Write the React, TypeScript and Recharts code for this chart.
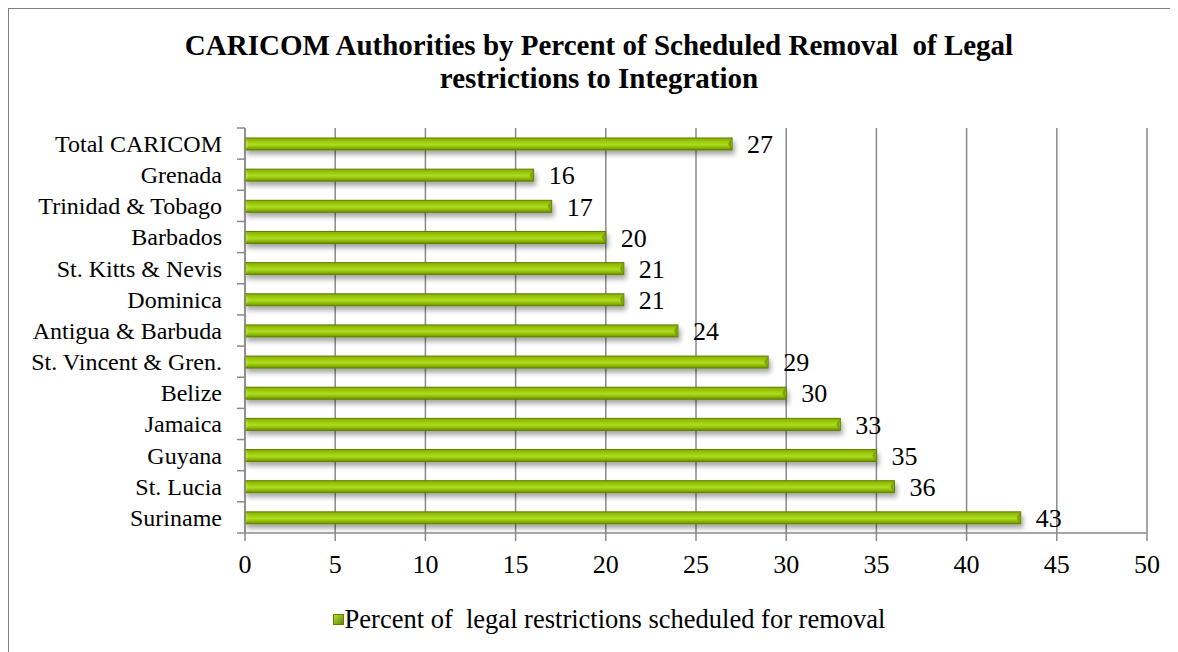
import React from "react";
import { BarChart, Bar, XAxis, YAxis, CartesianGrid, LabelList } from "recharts";

const categories = [
  "Total CARICOM",
  "Grenada",
  "Trinidad & Tobago",
  "Barbados",
  "St. Kitts & Nevis",
  "Dominica",
  "Antigua & Barbuda",
  "St. Vincent & Gren.",
  "Belize",
  "Jamaica",
  "Guyana",
  "St. Lucia",
  "Suriname",
];
const values = [27, 16, 17, 20, 21, 21, 24, 29, 30, 33, 35, 36, 43];
const xTicks = [0, 5, 10, 15, 20, 25, 30, 35, 40, 45, 50];
const seriesName = "Percent of  legal restrictions scheduled for removal";
const titleLines = [
  "CARICOM Authorities by Percent of Scheduled Removal  of Legal",
  "restrictions to Integration",
];

const data = categories.map((c, i) => ({ name: c, value: values[i] }));

const FONT = "'Liberation Serif', 'Times New Roman', serif";
const W = 1169;
const H = 643;
const MARGIN = { top: 119, right: 31, bottom: 79, left: 0 };
const X_AXIS_H = 40;
const Y_AXIS_W = 236;
const plotH = H - MARGIN.top - MARGIN.bottom - X_AXIS_H;
const band = plotH / categories.length;
const Y_TICK_MARGIN = 23;

const BarShape = (props: any) => {
  const { x, y, width, height } = props;
  if (width <= 0) return null;
  return (
    <g>
      <rect x={x} y={y} width={width} height={height} fill="url(#barGrad)" stroke="#5f7f00" strokeWidth={1} filter="url(#barShadow)" />
      <polygon points={`${x + 1},${y + 1} ${x + 4},${y + height / 2} ${x + 1},${y + height - 1}`} fill="#b8e23a" opacity={0.7} />
      <polygon points={`${x + width - 1},${y + 1} ${x + width - 4},${y + height / 2} ${x + width - 1},${y + height - 1}`} fill="#5f7f00" opacity={0.6} />
    </g>
  );
};

const YTick = (props: any) => {
  const { x, y, payload, index } = props;
  const axisX = x + Y_TICK_MARGIN;
  const top = y - band / 2;
  return (
    <g>
      <line x1={axisX - 8} x2={axisX} y1={top} y2={top} stroke="#8a8a8a" strokeWidth={1.5} />
      {index === categories.length - 1 && (
        <line x1={axisX - 8} x2={axisX} y1={y + band / 2} y2={y + band / 2} stroke="#8a8a8a" strokeWidth={1.5} />
      )}
      <text x={x} y={y} dy="0.35em" textAnchor="end" fontFamily={FONT} fontSize={24} fill="#000">
        {payload.value}
      </text>
    </g>
  );
};

export default function App() {
  return (
    <div
      style={{
        position: "relative",
        width: W,
        height: H,
        borderTop: "1px solid #808080",
        borderLeft: "1px solid #808080",
        background: "#fff",
        fontFamily: FONT,
      }}
    >
      <div
        style={{
          position: "absolute",
          left: 90,
          width: 1000,
          top: 20,
          textAlign: "center",
          fontWeight: "bold",
          fontSize: 29,
          lineHeight: "33px",
          color: "#000",
        }}
      >
        {titleLines.map((l) => (
          <div key={l} style={{ whiteSpace: "pre" }}>{l}</div>
        ))}
      </div>
      <BarChart
        width={W}
        height={H}
        data={data}
        layout="vertical"
        margin={MARGIN}
        barSize={12}
      >
        <defs>
          <linearGradient id="barGrad" x1="0" y1="0" x2="0" y2="1">
            <stop offset="0%" stopColor="#88ad00" />
            <stop offset="30%" stopColor="#9cc80a" />
            <stop offset="55%" stopColor="#addd22" />
            <stop offset="80%" stopColor="#8eb804" />
            <stop offset="100%" stopColor="#6a8c00" />
          </linearGradient>
          <filter id="barShadow" x="-5%" y="-50%" width="110%" height="250%">
            <feDropShadow dx="2" dy="4" stdDeviation="2.5" floodColor="#000" floodOpacity="0.35" />
          </filter>
        </defs>
        <CartesianGrid horizontal={false} stroke="#8a8a8a" strokeWidth={1.5} />
        <XAxis
          type="number"
          domain={[0, 50]}
          ticks={xTicks}
          interval={0}
          height={X_AXIS_H}
          stroke="#8a8a8a"
          strokeWidth={1.5}
          tickSize={8}
          tickMargin={14}
          tick={{ fontFamily: FONT, fontSize: 26, fill: "#000" }}
        />
        <YAxis
          type="category"
          dataKey="name"
          width={Y_AXIS_W}
          stroke="#8a8a8a"
          strokeWidth={1.5}
          tickLine={false}
          tickSize={0}
          tickMargin={Y_TICK_MARGIN}
          interval={0}
          tick={<YTick />}
        />
        <Bar dataKey="value" name={seriesName} shape={<BarShape />} isAnimationActive={false}>
          <LabelList dataKey="value" position="right" offset={15} fontFamily={FONT} fontSize={26} fill="#000" />
        </Bar>
      </BarChart>
      <div
        style={{
          position: "absolute",
          left: 100,
          width: 1000,
          top: 595,
          display: "flex",
          justifyContent: "center",
          alignItems: "center",
          fontSize: 26.5,
          color: "#000",
        }}
      >
        <svg width={11} height={11} style={{ marginRight: 1 }}>
          <defs>
            <linearGradient id="legGrad2" x1="0" y1="0" x2="1" y2="1">
              <stop offset="0%" stopColor="#b5e43a" />
              <stop offset="100%" stopColor="#5f8200" />
            </linearGradient>
          </defs>
          <rect x={0.5} y={0.5} width={10} height={10} fill="url(#legGrad2)" stroke="#5f7f00" />
        </svg>
        <span style={{ whiteSpace: "pre" }}>{seriesName}</span>
      </div>
    </div>
  );
}
